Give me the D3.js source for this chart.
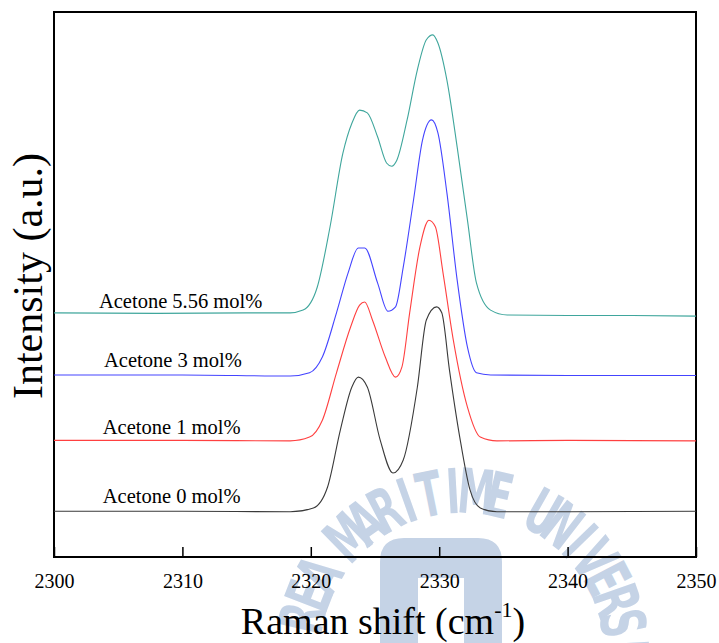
<!DOCTYPE html>
<html>
<head>
<meta charset="utf-8">
<script src="https://cdn.jsdelivr.net/npm/d3@7"></script>
<style>
  body { margin: 0; background: #fff; }
  text { font-family: "Liberation Serif", "Times New Roman", serif; }
</style>
</head>
<body>
<script>
// Raman spectra, acetone added
var xTicks = [2300, 2310, 2320, 2330, 2340, 2350];

// [raman shift, intensity]
var acetone0 = [[2300, 8.4], [2310, 8.4], [2318.4, 8.3], [2320.2, 9.0], [2321.3, 12.8], [2322.3, 23.3],
  [2323.2, 31.2], [2323.7, 33.0], [2324.4, 31.2], [2325.4, 21.5], [2326.4, 15.4], [2327.2, 17.8],
  [2328.3, 31.2], [2329.0, 43.5], [2329.8, 45.9], [2330.2, 44.8], [2330.8, 34.3], [2331.6, 22.0],
  [2332.4, 12.3], [2333.2, 9.0], [2334.5, 8.3], [2340, 8.3], [2350, 8.4]];
var acetone1 = [[2300, 21.4], [2310, 21.4], [2318.4, 21.3], [2319.9, 22.0], [2320.9, 25.1], [2322.0, 33.8],
  [2323.1, 42.2], [2323.8, 46.2], [2324.2, 46.8], [2324.8, 43.5], [2325.8, 36.7], [2326.6, 33.0],
  [2327.1, 34.9], [2327.7, 44.8], [2328.5, 56.9], [2329.2, 61.8], [2329.7, 60.6], [2330.3, 52.1],
  [2331.1, 39.8], [2332.2, 27.5], [2333.2, 22.0], [2334.5, 21.3], [2340, 21.4], [2350, 21.3]];
var acetone3 = [[2300, 33.4], [2310, 33.4], [2318.4, 33.2], [2319.9, 33.8], [2320.9, 36.7], [2322.0, 44.8],
  [2322.9, 52.1], [2323.7, 56.7], [2324.2, 56.7], [2325.2, 50.3], [2326.0, 45.1], [2326.6, 45.9],
  [2327.2, 53.2], [2328.0, 65.5], [2328.7, 76.5], [2329.4, 80.2], [2329.9, 77.8], [2330.6, 66.8],
  [2331.4, 50.8], [2332.2, 38.5], [2332.9, 33.8], [2334.0, 33.4], [2340, 33.3], [2350, 33.3]];
var acetone556 = [[2300, 44.8], [2308, 44.7], [2315, 44.8], [2318.4, 44.8], [2319.4, 45.3], [2320.5, 49.5],
  [2321.5, 60.6], [2322.5, 74.1], [2323.2, 79.6], [2323.8, 82.0], [2324.4, 81.5], [2325.2, 77.1],
  [2325.9, 72.3], [2326.3, 71.7], [2326.7, 72.8], [2327.5, 80.2], [2328.3, 89.4], [2329.0, 94.9],
  [2329.5, 95.8], [2329.9, 94.3], [2330.6, 87.5], [2331.4, 75.2], [2332.2, 61.8], [2332.9, 50.3],
  [2334.0, 45.3], [2335.3, 44.4], [2340, 44.3], [2345, 44.3], [2350, 44.2]];

var seriesData = [acetone0, acetone1, acetone3, acetone556];
var seriesNames = ["Acetone 0 mol%", "Acetone 1 mol%", "Acetone 3 mol%", "Acetone 5.56 mol%"];
var seriesColors = ["#3a3a3a", "#ff4040", "#4444ff", "#3fa69c"];
// label anchor in data units (shift, intensity of text baseline)
var labelShift = [2303.8, 2303.8, 2303.9, 2303.5];
var labelLevel = [9.9, 22.6, 34.9, 45.7];

var W = 719, H = 643;
var svg = d3.select("body").append("svg").attr("width", W).attr("height", H);

var x = d3.scaleLinear().domain([2300, 2350]).range([54, 696]);
var y = d3.scaleLinear().domain([0, 100]).range([557, 12]);

// faint watermark behind the plot
var wm = svg.append("g").attr("fill", "#c5d3e6");
wm.append("path")
  .attr("d", "M380,643 V562 Q380,538 404,538 H478 Q502,538 502,562 V643 H464 V578 H418 V643 Z");
var wmText = "REA MARITIME UNIVERSI".split("");
wmText.forEach(function(ch, i) {
  var ang = -77 + i * 8.2;
  wm.append("text")
    .attr("transform", "translate(462,655) rotate(" + ang + ") translate(0,-142) scale(0.6,1)")
    .attr("text-anchor", "middle")
    .style("font-family", "'DejaVu Sans', sans-serif")
    .style("font-weight", "bold")
    .style("font-size", "62px")
    .text(ch);
});

// frame
svg.append("rect")
  .attr("x", x(2300)).attr("y", y(100))
  .attr("width", x(2350) - x(2300)).attr("height", y(0) - y(100))
  .attr("fill", "none").attr("stroke", "#000").attr("stroke-width", 2);

// x axis, ticks pointing inward
var xAxis = svg.append("g")
  .attr("transform", "translate(0," + y(0) + ")")
  .call(d3.axisBottom(x).tickValues(xTicks).tickSizeInner(-10).tickSizeOuter(0).tickPadding(17).tickFormat(d3.format("d")))
  .attr("font-family", "Liberation Serif");
xAxis.select(".domain").remove();
xAxis.selectAll("line").attr("stroke", "#000").attr("stroke-width", 1.5);
xAxis.selectAll("text")
  .style("font-family", "'Liberation Serif', serif")
  .style("font-size", "20px")
  .attr("fill", "#000");

// spectra
var line = d3.line()
  .x(function(d) { return x(d[0]); })
  .y(function(d) { return y(d[1]); })
  .curve(d3.curveMonotoneX);

svg.selectAll("path.spec").data(seriesData).enter().append("path")
  .attr("class", "spec")
  .attr("d", line)
  .attr("fill", "none")
  .attr("stroke", function(d, i) { return seriesColors[i]; })
  .attr("stroke-width", 1.1);

// series labels
svg.selectAll("text.lab").data(seriesNames).enter().append("text")
  .attr("class", "lab")
  .attr("x", function(d, i) { return x(labelShift[i]); })
  .attr("y", function(d, i) { return y(labelLevel[i]); })
  .style("font-size", "20.5px")
  .attr("fill", "#000")
  .text(function(d) { return d; });

// axis titles
var xt = svg.append("text")
  .attr("x", 383).attr("y", 634)
  .attr("text-anchor", "middle")
  .style("font-size", "38px");
xt.append("tspan").text("Raman shift (cm");
xt.append("tspan").attr("dy", -17).style("font-size", "22px").text("-1");
xt.append("tspan").attr("dy", 17).text(")");

svg.append("text")
  .attr("transform", "translate(42,276) rotate(-90)")
  .attr("text-anchor", "middle")
  .style("font-size", "42px")
  .text("Intensity (a.u.)");
</script>
</body>
</html>
